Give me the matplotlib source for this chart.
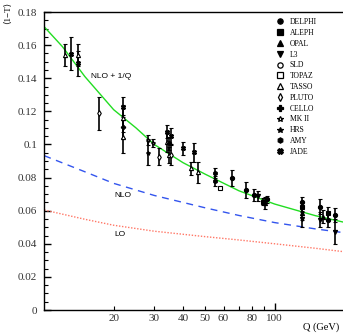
"""
<1-T> vs Q: data points with LO, NLO and NLO + 1/Q curves
"""

import matplotlib
matplotlib.use("Agg")
import matplotlib.pyplot as plt
from matplotlib.lines import Line2D
from matplotlib.ticker import FixedLocator, FuncFormatter

# ============================================
# DATA
# ============================================
# theory curves
q_curve = [10, 12, 15, 20, 25, 30, 40, 50, 70, 100, 150, 200]
nlo_1q = [0.171, 0.159, 0.141, 0.121, 0.110, 0.100, 0.089, 0.082, 0.072, 0.064, 0.057, 0.053]

q_nlo = [10, 15, 20, 30, 50, 70, 100, 150, 200]
nlo = [0.0932, 0.0835, 0.0765, 0.0692, 0.0617, 0.0571, 0.0528, 0.0490, 0.0467]
lo = [0.0604, 0.0548, 0.0512, 0.0476, 0.0443, 0.0423, 0.0400, 0.0373, 0.0352]

# measurements: Q, <1-T>, error, experiment
q_data = [12.3, 13.1, 14.0, 14.0, 17.2, 22.0, 22.0, 22.0, 22.0,
          28.3, 28.3, 29.6, 31.5, 34.0, 34.0, 34.9, 34.9, 35.6, 35.6,
          39.9, 43.4, 44.8, 46.4, 55.1, 55.1, 57.9, 65.1, 74.9,
          81.6, 84.5, 89.3, 91.0, 93.0,
          132, 132, 132, 132, 158, 158, 162, 171, 171, 183, 183]
t_data = [0.154, 0.1547, 0.154, 0.149, 0.1188, 0.1228, 0.1158, 0.1108, 0.1047,
          0.1027, 0.0947, 0.1007, 0.0927, 0.1077, 0.1017, 0.1007, 0.0937, 0.1051, 0.0937,
          0.0977, 0.0856, 0.0953, 0.0831, 0.0826, 0.0780, 0.0735, 0.0796, 0.0725,
          0.0695, 0.0689, 0.0654, 0.0645, 0.0669,
          0.0654, 0.0624, 0.0584, 0.0550, 0.0624, 0.0544, 0.0564, 0.0584, 0.0544, 0.0574, 0.0473]
e_data = [0.0068, 0.0099, 0.0065, 0.0075, 0.0101, 0.006, 0.008, 0.007, 0.010,
          0.003, 0.0072, 0.0025, 0.005, 0.004, 0.006, 0.004, 0.005, 0.005, 0.006,
          0.004, 0.004, 0.0058, 0.0065, 0.003, 0.003, 0.0, 0.005, 0.005,
          0.0035, 0.003, 0.002, 0.0035, 0.002,
          0.003, 0.003, 0.004, 0.005, 0.0045, 0.0045, 0.004, 0.004, 0.004, 0.004, 0.0075]
exp_data = ['TASSO', 'JADE', 'TASSO', 'JADE', 'PLUTO', 'JADE', 'TASSO', 'CELLO', 'TASSO',
            'MK II', 'HRS', 'MK II', 'PLUTO', 'JADE', 'TASSO', 'CELLO', 'TASSO', 'JADE', 'PLUTO',
            'JADE', 'TASSO', 'JADE', 'TASSO', 'AMY', 'AMY', 'TOPAZ', 'DELPHI', 'DELPHI',
            'DELPHI', 'L3', 'ALEPH', 'OPAL', 'DELPHI',
            'DELPHI', 'ALEPH', 'OPAL', 'L3', 'DELPHI', 'L3', 'OPAL', 'ALEPH', 'DELPHI', 'DELPHI', 'L3']

experiments = ['DELPHI', 'ALEPH', 'OPAL', 'L3', 'SLD', 'TOPAZ', 'TASSO',
               'PLUTO', 'CELLO', 'MK II', 'HRS', 'AMY', 'JADE']

# marker, filled?
styles = {
    'DELPHI': ('o', True), 'ALEPH': ('s', True), 'OPAL': ('^', True),
    'L3': ('v', True), 'SLD': ('o', False), 'TOPAZ': ('s', False),
    'TASSO': ('^', False), 'PLUTO': ('d', False), 'CELLO': ('P', True),
    'MK II': ('*', False), 'HRS': ('*', True), 'AMY': ('h', True),
    'JADE': ('X', True),
}

# ============================================
# PLOT
# ============================================
fig = plt.figure(figsize=(3.43, 3.34), dpi=100)
ax = fig.add_axes([44.3 / 343, 24 / 334, 299.7 / 343, 298 / 334])

serif = ['Liberation Serif', 'DejaVu Serif']
sans = ['Liberation Sans', 'DejaVu Sans']

ax.plot(q_curve, nlo_1q, color='#22dd22', lw=1.0)
ax.plot(q_nlo, nlo, color='#3355ee', lw=1.0, ls=(0, (5, 4)))
ax.plot(q_nlo, lo, color='#ff7766', lw=1.0, ls=(0, (1, 1.2)))

# error bars first, then markers
ax.errorbar(q_data, t_data, yerr=e_data, fmt='none', ecolor='black',
            elinewidth=1.2, capsize=1.5, capthick=0.8, zorder=3)
for q, t, exp in zip(q_data, t_data, exp_data):
    m, filled = styles[exp]
    ax.plot(q, t, marker=m, ms=3.0, color='black',
            mfc='black' if filled else 'white', mew=0.8, zorder=4)

# labels on the curves
ax.text(16.0, 0.141, 'NLO + 1/Q', fontsize=6, family=sans, va='center')
ax.text(20.1, 0.0689, 'NLO', fontsize=6, family=sans, va='center')
ax.text(20.1, 0.0459, 'LO', fontsize=6, family=sans, va='center')

# legend
handles = []
for exp in experiments:
    m, filled = styles[exp]
    handles.append(Line2D([], [], ls='none', marker=m, ms=3.8, color='black',
                          mfc='black' if filled else 'white', mew=0.9))
leg = ax.legend(handles, experiments, loc='upper left', bbox_to_anchor=(0.765, 0.99),
                frameon=False, prop={'family': serif, 'size': 5.5},
                labelspacing=0.37, handletextpad=0.7, handlelength=1.0,
                borderaxespad=0.0)

# axes
ax.set_xscale('log')
ax.set_xlim(10, 200)
ax.set_ylim(0, 0.18)

ax.xaxis.set_major_locator(FixedLocator([100]))
ax.xaxis.set_minor_locator(FixedLocator([20, 30, 40, 50, 60, 70, 80, 90]))
shown = {20, 30, 40, 50, 60, 80, 100}
fmt = FuncFormatter(lambda v, p: f'{v:g}' if round(v) in shown else '')
ax.xaxis.set_major_formatter(fmt)
ax.xaxis.set_minor_formatter(fmt)

ax.set_yticks([0, 0.02, 0.04, 0.06, 0.08, 0.1, 0.12, 0.14, 0.16, 0.18])
ax.set_yticklabels(['0', '0.02', '0.04', '0.06', '0.08', '0.1', '0.12', '0.14', '0.16', '0.18'])
ax.yaxis.set_minor_locator(FixedLocator([i * 0.005 for i in range(37)]))

ax.tick_params(which='major', direction='in', length=5, width=1.0, labelsize=8, pad=5)
ax.tick_params(which='minor', direction='in', length=3, width=0.8, labelsize=8, pad=5)
ax.tick_params(axis='x', which='both', pad=3)
ax.tick_params(top=False, right=False)
for lab in ax.get_xticklabels(which='both') + ax.get_yticklabels():
    lab.set_family(serif)
    lab.set_color('#333333')

for s in ax.spines.values():
    s.set_linewidth(1.0)

fig.text(0.023, 0.994, '⟨1−T⟩', rotation=90, va='top', ha='center',
         fontsize=6.5, family=serif)
fig.text(0.99, 0.005, 'Q (GeV)', ha='right', va='bottom', fontsize=7.5, family=serif)

fig.savefig('out.png', dpi=100)
